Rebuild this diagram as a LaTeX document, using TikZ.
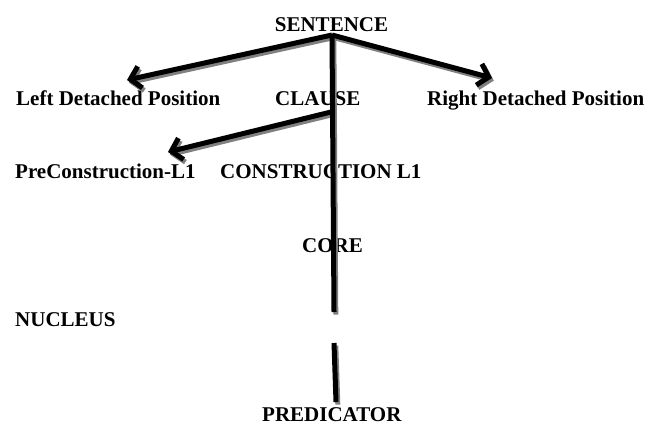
\documentclass[tikz,border=0pt]{standalone}
\usepackage{fontspec}
\setmainfont{Liberation Serif}
\usetikzlibrary{arrows.meta}
\begin{document}
\begin{tikzpicture}[x=1pt,y=-1pt,
  lbl/.style={anchor=base west,inner sep=0pt,font=\fontsize{21}{24}\selectfont\bfseries},
  lblc/.style={anchor=base,inner sep=0pt,font=\fontsize{21}{24}\selectfont\bfseries},
  shad/.style={draw=black!50,line width=5pt,transform canvas={xshift=1.8pt,yshift=-2.6pt}},
  main/.style={draw=black,line width=5pt},
  tip/.style={-{Straight Barb[length=10pt,width=22pt,line width=5pt]}}]
\useasboundingbox (0,0) rectangle (660,425);
\node[lblc] (sentence) at (331.5,31.7) {SENTENCE};
\node[lbl] (ldp) at (16,106) {Left Detached Position};
\node[lbl] (clause) at (275,106) {CLAUSE};
\node[lbl] (rdp) at (427,106) {Right Detached Position};
\node[lbl] (precon) at (15,178) {PreConstruction-L1};
\node[lbl] (con) at (220,178) {CONSTRUCTION L1};
\node[lbl] (core) at (302,252) {CORE};
\node[lbl] (nucleus) at (15,326) {NUCLEUS};
\node[lbl] (pred) at (262,421) {PREDICATOR};
\coordinate (s0) at (332,35);
\coordinate (lt) at (127,80);
\coordinate (rt) at (492,78);
\coordinate (vb) at (334,312);
\coordinate (c0) at (331,112);
\coordinate (pt) at (168,152);
\coordinate (n0) at (334,343);
\coordinate (n1) at (336,402);
% shadows
\draw[shad,tip] (s0) -- (lt);
\draw[shad,tip] (s0) -- (rt);
\draw[shad,tip] (c0) -- (pt);
\draw[shad] (s0) -- (vb);
\draw[shad] (n0) -- (n1);
% main lines
\draw[main,tip] (s0) -- (lt);
\draw[main,tip] (s0) -- (rt);
\draw[main,tip] (c0) -- (pt);
\draw[main] (s0) -- (vb);
\draw[main] (n0) -- (n1);
\end{tikzpicture}
\end{document}
